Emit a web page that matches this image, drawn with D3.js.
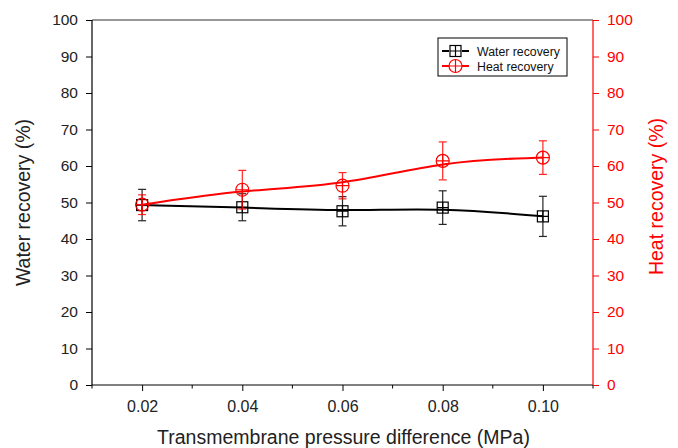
<!DOCTYPE html>
<html>
<head>
<meta charset="utf-8">
<script src="https://cdn.jsdelivr.net/npm/d3@7"></script>
<style>
  body { margin: 0; background: #fff; }
  text { font-family: "Liberation Sans", Arial, sans-serif; }
</style>
</head>
<body>
<div id="chart"></div>
<script>
// data
var pressure      = [0.02, 0.04, 0.06, 0.08, 0.10]
var waterRecovery = [49.3, 48.7, 47.6, 48.6, 46.2]
var waterErr      = [4.3, 3.7, 4.0, 4.6, 5.5]
var heatRecovery  = [49.4, 53.5, 54.6, 61.4, 62.3]
var heatErr       = [2.7, 5.3, 3.6, 5.2, 4.6]
var xTicks        = [0.02, 0.04, 0.06, 0.08, 0.10]
var xMinorTicks   = [0.01, 0.03, 0.05, 0.07, 0.09, 0.11]
var yTicks        = [0, 10, 20, 30, 40, 50, 60, 70, 80, 90, 100]

var W = 678, H = 448
var margin = {top: 20, right: 85, bottom: 63, left: 92}
var width  = W - margin.left - margin.right
var height = H - margin.top - margin.bottom
var red = '#ff0000'

var svg = d3.select('#chart').append('svg').attr('width', W).attr('height', H)
var g = svg.append('g').attr('transform', 'translate(' + margin.left + ',' + margin.top + ')')

var x  = d3.scaleLinear().domain([0.01, 0.11]).range([0, width])
var yL = d3.scaleLinear().domain([0, 100]).range([height, 0])
var yR = d3.scaleLinear().domain([0, 100]).range([height, 0])

// top frame line
g.append('line').attr('x1', 0).attr('x2', width).attr('y1', 0).attr('y2', 0)
  .attr('stroke', '#333').attr('stroke-width', 1.2)

// x axis
var xAxis = g.append('g').attr('transform', 'translate(0,' + height + ')')
xAxis.call(d3.axisBottom(x).tickValues(xTicks).tickFormat(d3.format('.2f')).tickSize(6).tickPadding(10))
xAxis.append('g').selectAll('line').data(xMinorTicks).join('line')
  .attr('x1', d => x(d)).attr('x2', d => x(d)).attr('y1', 0).attr('y2', 3.5)
  .attr('stroke', '#000')
xAxis.select('.domain').attr('d', 'M0,0H' + width).attr('stroke-width', 1.2)
xAxis.selectAll('text').attr('font-size', 16).attr('fill', '#222')

// left axis
var leftAxis = g.append('g')
leftAxis.call(d3.axisLeft(yL).tickValues(yTicks).tickSize(6).tickPadding(8))
leftAxis.select('.domain').attr('d', 'M0,0V' + height).attr('stroke-width', 1.2)
leftAxis.selectAll('text').attr('font-size', 15.5).attr('fill', '#222')

// right axis
var rightAxis = g.append('g').attr('transform', 'translate(' + width + ',0)')
rightAxis.call(d3.axisRight(yR).tickValues(yTicks).tickSize(6).tickPadding(8))
rightAxis.select('.domain').attr('d', 'M0,0V' + height).attr('stroke', red).attr('stroke-width', 1.2)
rightAxis.selectAll('line').attr('stroke', red)
rightAxis.selectAll('text').attr('font-size', 15.5).attr('fill', red)

// axis titles
svg.append('text').attr('x', margin.left + width / 2 + 1).attr('y', 444)
  .attr('text-anchor', 'middle').attr('font-size', 19.5).attr('fill', '#222')
  .text('Transmembrane pressure difference (MPa)')
svg.append('text').attr('transform', 'translate(30,' + (margin.top + height / 2) + ') rotate(-90)')
  .attr('text-anchor', 'middle').attr('font-size', 19.5).attr('fill', '#222')
  .text('Water recovery (%)')
svg.append('text').attr('transform', 'translate(663,' + (margin.top + height / 2 - 6) + ') rotate(-90)')
  .attr('text-anchor', 'middle').attr('font-size', 19.5).attr('fill', red)
  .text('Heat recovery (%)')

// series
var series = [
  {name: 'Water recovery', vals: waterRecovery, err: waterErr, color: '#000', shape: 'square'},
  {name: 'Heat recovery',  vals: heatRecovery,  err: heatErr,  color: red,    shape: 'circle'}
]

function drawMarker(sel, shape, color) {
  if (shape == 'square') {
    sel.append('rect').attr('x', -5.5).attr('y', -5.5).attr('width', 11).attr('height', 11)
      .attr('fill', 'none').attr('stroke', color).attr('stroke-width', 1.2)
    sel.append('path').attr('d', 'M-5.5,0H5.5M0,-5.5V5.5').attr('stroke', color).attr('stroke-width', 1.2)
  } else {
    sel.append('circle').attr('r', 6.5).attr('fill', 'none').attr('stroke', color).attr('stroke-width', 1.2)
    sel.append('path').attr('d', 'M-6.5,0H6.5M0,-6.5V6.5').attr('stroke', color).attr('stroke-width', 1.2)
  }
}

series.forEach(function(s) {
  var pts = pressure.map((p, i) => ({x: p, y: s.vals[i], e: s.err[i]}))
  g.append('path').datum(pts)
    .attr('fill', 'none').attr('stroke', s.color).attr('stroke-width', 2)
    .attr('d', d3.line().curve(d3.curveBasis).x(d => x(d.x)).y(d => yL(d.y)))

  var eb = g.append('g').attr('stroke', s.color).attr('stroke-width', 1.2).attr('opacity', 0.85)
  pts.forEach(function(d) {
    eb.append('line').attr('x1', x(d.x)).attr('x2', x(d.x)).attr('y1', yL(d.y + d.e)).attr('y2', yL(d.y - d.e))
    eb.append('line').attr('x1', x(d.x) - 4).attr('x2', x(d.x) + 4).attr('y1', yL(d.y + d.e)).attr('y2', yL(d.y + d.e))
    eb.append('line').attr('x1', x(d.x) - 4).attr('x2', x(d.x) + 4).attr('y1', yL(d.y - d.e)).attr('y2', yL(d.y - d.e))
  })

  pts.forEach(function(d) {
    var m = g.append('g').attr('transform', 'translate(' + x(d.x) + ',' + yL(d.y) + ')')
    drawMarker(m, s.shape, s.color)
  })
})

// legend
var legend = svg.append('g').attr('transform', 'translate(438,38)')
legend.append('rect').attr('width', 129).attr('height', 38)
  .attr('fill', '#fff').attr('stroke', '#000').attr('stroke-width', 1)
series.forEach(function(s, i) {
  var row = legend.append('g').attr('transform', 'translate(0,' + (13 + i * 15) + ')')
  row.append('line').attr('x1', 4).attr('x2', 11).attr('stroke', s.color).attr('stroke-width', 2)
  row.append('line').attr('x1', 24).attr('x2', 31).attr('stroke', s.color).attr('stroke-width', 2)
  var m = row.append('g').attr('transform', 'translate(17.5,0)')
  drawMarker(m, s.shape, s.color)
  row.append('text').attr('x', 39).attr('y', 4.5).attr('font-size', 12.3).attr('fill', '#111').text(s.name)
})
</script>
</body>
</html>
